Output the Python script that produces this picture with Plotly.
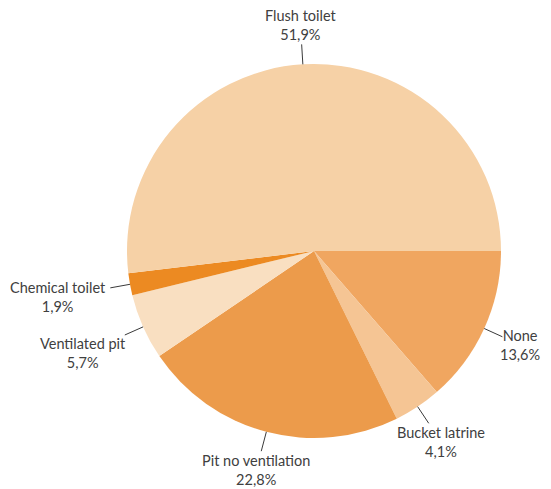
import math
import plotly.graph_objects as go

# Sanitation type shares (%)
categories = ["Flush toilet", "Chemical toilet", "Ventilated pit",
              "Pit no ventilation", "Bucket latrine", "None"]
shares = [51.9, 1.9, 5.7, 22.8, 4.1, 13.6]
colors = ["#F6D1A6", "#EC8A22", "#F9DFC1", "#EC9B4B", "#F5C594", "#F0A660"]

W, H = 551, 489
CX, CY, R = 314, 251, 187          # pie centre and radius in pixels
LEAD = 20                           # leader line length
GAP = 1                             # gap between leader line and label
FONT_SIZE = 14.5
CHAR_W = 6.8
LINE_H = 18

def px_to_paper(x, y):
    return x / W, 1 - y / H

# Slices run counterclockwise from 3 o'clock in category order; plotly's
# clockwise mode starting at 3 o'clock with the order reversed gives the same.
fig = go.Figure(go.Pie(
    labels=categories[::-1],
    values=shares[::-1],
    sort=False,
    direction="clockwise",
    rotation=90,
    marker=dict(colors=colors[::-1], line=dict(width=0)),
    textinfo="none",
    hoverinfo="label+percent",
    domain=dict(x=[(CX - R) / W, (CX + R) / W],
                y=[1 - (CY + R) / H, 1 - (CY - R) / H]),
    showlegend=False,
))

shapes, annotations = [], []
total = sum(shares)
cum = 0.0
for name, v in zip(categories, shares):
    mid = (cum + v / 2) / total * 2 * math.pi   # from 3 o'clock, counterclockwise
    cum += v
    c, s = math.cos(mid), math.sin(mid)
    x0, y0 = CX + R * c, CY - R * s
    x1, y1 = CX + (R + LEAD) * c, CY - (R + LEAD) * s
    pa0, pb0 = px_to_paper(x0, y0)
    pa1, pb1 = px_to_paper(x1, y1)
    shapes.append(dict(type="line", xref="paper", yref="paper",
                       x0=pa0, y0=pb0, x1=pa1, y1=pb1,
                       line=dict(color="#3a3a3a", width=1)))
    pct = f"{v:.1f}".replace(".", ",") + "%"
    w = max(len(name), len(pct)) * CHAR_W
    h = 2 * LINE_H
    t = min((w / 2) / max(abs(c), 1e-6), (h / 2) / max(abs(s), 1e-6)) + GAP
    tx, ty = x1 + c * t, y1 - s * t
    ax, ay = px_to_paper(tx, ty)
    annotations.append(dict(x=ax, y=ay, xref="paper", yref="paper",
                            text=f"{name}<br>{pct}", showarrow=False,
                            xanchor="center", yanchor="middle", align="center",
                            borderpad=0,
                            font=dict(family="Lato", size=FONT_SIZE, color="#404040")))

fig.update_layout(
    width=W, height=H,
    margin=dict(l=0, r=0, t=0, b=0),
    paper_bgcolor="white", plot_bgcolor="white",
    shapes=shapes, annotations=annotations,
)

fig.write_html("out.html")
